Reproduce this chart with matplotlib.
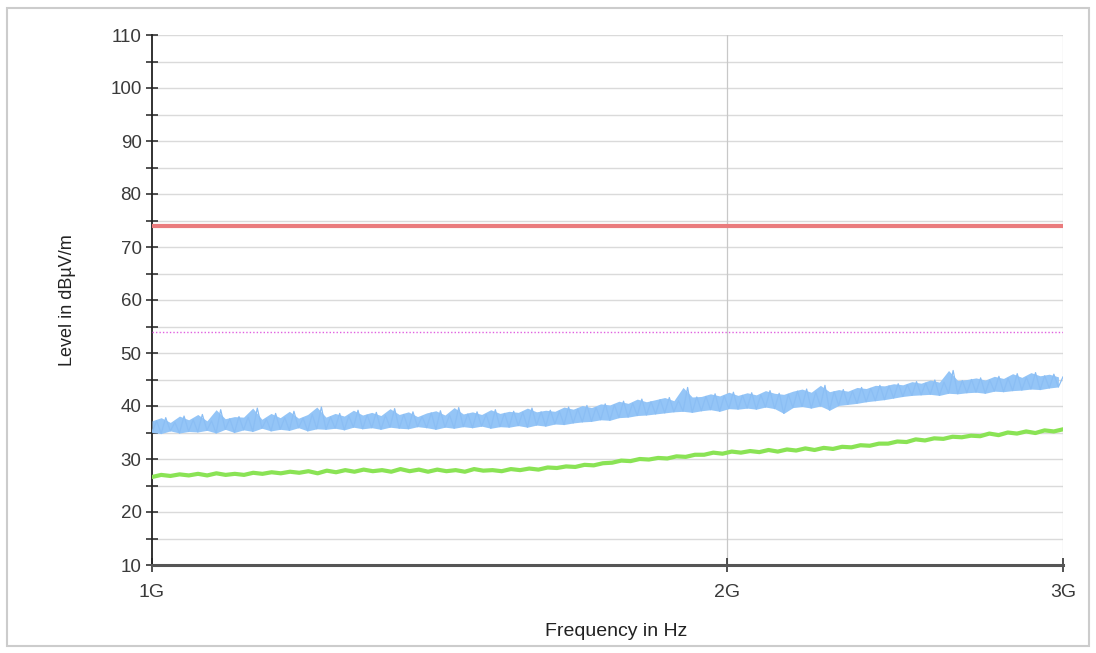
import numpy as np
import matplotlib
matplotlib.use("Agg")
import matplotlib.pyplot as plt
from matplotlib.patches import Rectangle
from matplotlib.ticker import FixedLocator, NullFormatter

plt.rcParams['font.family'] = ['Liberation Sans', 'DejaVu Sans']

# ---- data ----
f_start, f_stop = 1e9, 3e9
limit_peak = 74.0      # red limit line
limit_avg = 54.0       # magenta dotted limit line

peak_trace = [
    35.0, 37.2, 34.8, 37.8, 35.3, 36.9, 34.9, 38.1, 35.2, 37.4,
    35.1, 38.4, 35.4, 37.2, 34.9, 39.3, 35.6, 37.6, 35.0, 38.0,
    35.5, 37.9, 35.2, 39.6, 35.8, 37.5, 35.3, 38.6, 35.6, 37.8,
    35.4, 39.0, 35.9, 37.7, 35.3, 38.4, 35.7, 39.8, 35.6, 37.9,
    35.8, 38.6, 35.5, 38.1, 36.0, 39.2, 35.7, 38.3, 35.9, 38.8,
    35.6, 38.2, 36.0, 39.5, 35.8, 38.4, 35.7, 38.9, 36.1, 38.0,
    35.9, 38.7, 35.6, 39.1, 36.0, 38.3, 35.8, 39.7, 36.1, 38.5,
    35.9, 38.9, 36.2, 38.4, 35.8, 39.3, 36.1, 38.6, 36.0, 39.0,
    36.3, 38.8, 36.0, 39.6, 36.4, 38.9, 36.2, 39.2, 36.6, 39.0,
    36.5, 39.8, 36.8, 39.4, 37.0, 40.1, 37.1, 39.7, 37.4, 40.4,
    37.3, 40.2, 37.8, 40.9, 37.9, 40.5, 38.2, 41.3, 38.3, 40.8,
    38.5, 41.2, 38.7, 41.6, 38.9, 41.0, 39.0, 43.5, 38.8, 41.7,
    39.1, 41.8, 39.3, 42.3, 39.0, 41.9, 39.5, 42.6, 39.4, 42.0,
    39.6, 42.5, 39.4, 42.1, 39.8, 42.9, 39.5, 42.4, 38.6, 42.2,
    39.7, 42.8, 39.9, 43.2, 39.6, 42.6, 40.0, 43.9, 39.2, 42.7,
    40.1, 43.1, 40.3, 42.8, 40.5, 43.5, 40.8, 43.3, 41.0, 43.9,
    41.2, 43.8, 41.5, 44.2, 41.8, 44.0, 42.0, 44.6, 42.1, 44.3,
    42.2, 44.9, 42.0, 44.5, 42.4, 46.7, 42.3, 44.8, 42.5, 45.0,
    42.6, 45.3, 42.4, 44.9, 42.8, 45.6, 42.7, 45.2, 42.9, 46.1,
    43.0, 45.4, 43.2, 46.3, 43.1, 45.7, 43.4, 46.0, 43.6, 45.5,
]

avg_trace = [
    26.6, 27.0, 26.8, 27.1, 26.9, 27.2, 26.9, 27.3, 27.0, 27.2,
    27.0, 27.4, 27.2, 27.5, 27.3, 27.6, 27.4, 27.7, 27.3, 27.8,
    27.5, 27.9, 27.6, 28.0, 27.7, 27.9, 27.6, 28.1, 27.7, 28.0,
    27.6, 28.0, 27.7, 27.9, 27.6, 28.1, 27.8, 27.9, 27.7, 28.1,
    27.9, 28.2, 28.0, 28.4, 28.3, 28.6, 28.5, 28.9, 28.8, 29.2,
    29.3, 29.7, 29.6, 30.0, 29.9, 30.2, 30.1, 30.5, 30.4, 30.8,
    30.8, 31.2, 31.0, 31.4, 31.2, 31.5, 31.3, 31.7, 31.4, 31.8,
    31.6, 32.0, 31.7, 32.1, 31.9, 32.3, 32.2, 32.6, 32.5, 32.9,
    32.9, 33.3, 33.2, 33.7, 33.5, 33.9, 33.8, 34.2, 34.1, 34.4,
    34.3, 34.8, 34.5, 35.0, 34.8, 35.2, 34.9, 35.4, 35.2, 35.6,
]

y_major = [10, 20, 30, 40, 50, 60, 70, 80, 90, 100, 110]
x_ticks = [1e9, 2e9, 3e9]
x_labels = ["1G", "2G", "3G"]

# sweep grids (log-spaced measurement points)
f_peak = np.geomspace(f_start, f_stop, len(peak_trace))
f_avg = np.geomspace(f_start, f_stop, len(avg_trace))
peak_arr = np.array(peak_trace)
peak_lo = peak_arr[0::2]
peak_hi = peak_arr[1::2]
f_pairs = f_peak[0::2]

# ---- figure ----
fig = plt.figure(figsize=(10.96, 6.53), dpi=100)
fig.patches.append(Rectangle((7 / 1096, 1 - 646 / 653), 1082 / 1096, 638 / 653,
                             transform=fig.transFigure, fill=False,
                             edgecolor='#cccccc', linewidth=1.5))

ax = fig.add_axes([152 / 1096, 1 - 565 / 653, 911 / 1096, 530 / 653])
ax.set_xscale('log')
ax.set_xlim(f_start, f_stop)
ax.set_ylim(10, 110)

# grid
for y in np.arange(15, 111, 5):
    ax.axhline(y, color='#dadada', lw=1.0, zorder=0)
ax.axvline(2e9, color='#c8c8c8', lw=0.9, zorder=0)
ax.axvline(3e9, color='#d0d0d0', lw=0.9, zorder=0)

# traces
ax.fill_between(f_pairs, peak_lo, peak_hi, color='#94c5f7', lw=0, zorder=3)
ax.plot(f_peak, peak_trace, color='#8bbef4', lw=0.9, zorder=3)
ax.plot(f_avg, avg_trace, color='#8ae355', lw=3.0, zorder=3)
ax.axhline(limit_peak, color='#ea7b7d', lw=3, zorder=4)
ax.axhline(limit_avg, color='#e060e0', lw=1.0, ls=(0, (1, 1.5)), zorder=4)

# spines
for s in ['top', 'right']:
    ax.spines[s].set_visible(False)
ax.spines['left'].set_color('#222222')
ax.spines['left'].set_linewidth(1.3)
ax.spines['bottom'].set_color('#555555')
ax.spines['bottom'].set_linewidth(2.2)

# ticks
ax.yaxis.set_major_locator(FixedLocator(y_major))
ax.yaxis.set_minor_locator(FixedLocator(list(range(15, 110, 10))))
ax.yaxis.set_minor_formatter(NullFormatter())
ax.set_yticklabels([str(v) for v in y_major])
ax.xaxis.set_major_locator(FixedLocator(x_ticks))
ax.xaxis.set_minor_locator(FixedLocator([]))
ax.set_xticklabels(x_labels)
ax.tick_params(axis='y', which='both', direction='inout', length=9, width=1.2,
               color='#333333', labelsize=13.5, labelcolor='#3a3a3a', pad=3)
ax.tick_params(axis='x', which='major', direction='inout', length=10, width=1.2,
               color='#333333', labelsize=14, labelcolor='#3a3a3a', pad=9)

ax.set_xlabel("Frequency in Hz", fontsize=14, color='#222222', va='center')
ax.xaxis.set_label_coords(0.51, -0.126)
ax.set_ylabel("Level in dBµV/m", fontsize=13, color='#222222', va='center')
ax.yaxis.set_label_coords(-0.093, 0.5)

fig.savefig("out.png", dpi=100, facecolor='white')
